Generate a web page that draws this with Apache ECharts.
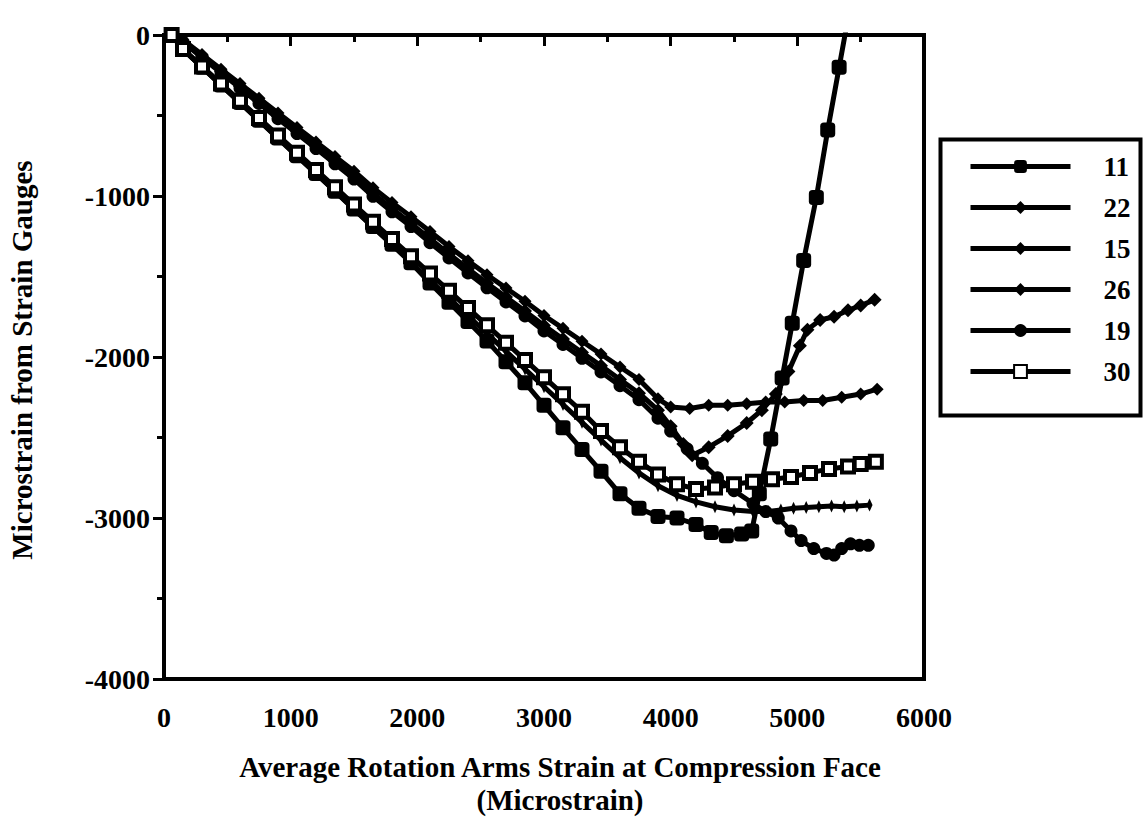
<!DOCTYPE html>
<html><head><meta charset="utf-8">
<script src="https://cdn.jsdelivr.net/npm/echarts@6/dist/echarts.min.js"></script>
<style>html,body{margin:0;padding:0;background:#fff}#c{width:1143px;height:837px}</style>
</head><body><div id="c"></div>
<script>
const seriesNames = ['11','22','15','26','19','30'];
const xTickLabels = ['0','1000','2000','3000','4000','5000','6000'];
const yTickLabels = ['-4000','-3000','-2000','-1000','0'];

const s11x = [60,150,300,450,600,750,900,1050,1200,1350,1500,1650,1800,1950,2100,2250,2400,2550,2700,2850,3000,3150,3300,3450,3600,3750,3900,4050,4200,4320,4440,4560,4640,4700,4790,4880,4960,5050,5150,5240,5330,5420];
const s11y = [0,-90,-200,-310,-420,-530,-640,-750,-860,-970,-1080,-1190,-1300,-1415,-1540,-1660,-1780,-1900,-2030,-2160,-2300,-2440,-2575,-2710,-2850,-2940,-2990,-3000,-3040,-3090,-3110,-3100,-3080,-2850,-2510,-2130,-1790,-1400,-1010,-590,-200,190];

const s22x = [60,150,300,450,600,750,900,1050,1200,1350,1500,1650,1800,1950,2100,2250,2400,2550,2700,2850,3000,3150,3300,3450,3600,3750,3900,4000,4100,4170,4300,4450,4600,4720,4830,4930,5020,5080,5180,5290,5400,5500,5610];
const s22y = [0,-40,-130,-225,-318,-410,-505,-598,-690,-785,-878,-985,-1078,-1170,-1265,-1360,-1452,-1542,-1628,-1715,-1805,-1888,-1972,-2055,-2140,-2225,-2330,-2430,-2540,-2610,-2560,-2490,-2410,-2330,-2230,-2090,-1930,-1830,-1770,-1750,-1710,-1680,-1645];

const s15x = [60,150,300,450,600,750,900,1050,1200,1350,1500,1650,1800,1950,2100,2250,2400,2550,2700,2850,3000,3150,3300,3450,3600,3750,3900,4000,4150,4300,4450,4600,4750,4900,5050,5200,5350,5500,5630];
const s15y = [0,-31,-121,-212,-302,-393,-484,-574,-665,-755,-846,-949,-1041,-1129,-1221,-1314,-1402,-1489,-1572,-1654,-1742,-1822,-1902,-1982,-2062,-2140,-2260,-2310,-2320,-2300,-2300,-2290,-2280,-2280,-2270,-2270,-2250,-2230,-2200];

const s26x = [60,150,300,450,600,750,900,1050,1200,1350,1500,1650,1800,1950,2100,2250,2400,2550,2700,2850,3000,3150,3300,3450,3600,3750,3900,4050,4200,4350,4500,4650,4770,4870,4970,5070,5170,5270,5370,5470,5570];
const s26y = [0,-90,-200,-311,-421,-531,-642,-752,-862,-972,-1083,-1193,-1303,-1413,-1524,-1634,-1744,-1854,-1965,-2075,-2185,-2295,-2406,-2516,-2626,-2720,-2800,-2860,-2900,-2930,-2950,-2960,-2960,-2950,-2940,-2935,-2930,-2925,-2930,-2925,-2920];

const s19x = [60,150,300,450,600,750,900,1050,1200,1350,1500,1650,1800,1950,2100,2250,2400,2550,2700,2850,3000,3150,3300,3450,3600,3750,3900,4000,4130,4250,4370,4500,4650,4750,4850,4950,5030,5130,5230,5290,5350,5420,5490,5560];
const s19y = [0,-45,-140,-235,-330,-425,-520,-612,-705,-800,-895,-1002,-1098,-1190,-1290,-1385,-1478,-1570,-1658,-1745,-1838,-1922,-2008,-2093,-2178,-2265,-2380,-2460,-2570,-2660,-2750,-2830,-2910,-2960,-3000,-3080,-3140,-3190,-3220,-3230,-3190,-3160,-3170,-3170];

const s30x = [60,150,300,450,600,750,900,1050,1200,1350,1500,1650,1800,1950,2100,2250,2400,2550,2700,2850,3000,3150,3300,3450,3600,3750,3900,4050,4200,4350,4500,4650,4800,4950,5100,5250,5400,5500,5620];
const s30y = [0,-87,-195,-302,-409,-516,-624,-731,-838,-945,-1053,-1160,-1267,-1374,-1482,-1589,-1696,-1803,-1911,-2018,-2125,-2232,-2340,-2460,-2560,-2650,-2730,-2790,-2820,-2810,-2790,-2775,-2760,-2745,-2720,-2695,-2680,-2665,-2650];

const FONT = '"Liberation Serif", "DejaVu Serif", serif';
const pair = (xs, ys) => xs.map((x, i) => [x, ys[i]]);

const styles = {
  '11': {symbol: 'roundRect', symbolSize: 15, item: {color: '#000'}},
  '22': {symbol: 'diamond', symbolSize: 14, item: {color: '#000'}},
  '15': {symbol: 'diamond', symbolSize: 13, item: {color: '#000'}},
  '26': {symbol: 'diamond', symbolSize: [6, 13], item: {color: '#000'}},
  '19': {symbol: 'circle', symbolSize: 13, item: {color: '#000'}},
  '30': {symbol: 'rect', symbolSize: 12, item: {color: '#fff', borderColor: '#000', borderWidth: 4}}
};
const dataMap = {
  '11': pair(s11x, s11y), '22': pair(s22x, s22y), '15': pair(s15x, s15y),
  '26': pair(s26x, s26y), '19': pair(s19x, s19y), '30': pair(s30x, s30y)
};

const chart = echarts.init(document.getElementById('c'), null, {renderer: 'svg'});
chart.setOption({
  animation: false,
  backgroundColor: '#fff',
  grid: {left: 164, right: 219, top: 35, bottom: 158, show: true, borderColor: '#000', borderWidth: 4},
  xAxis: {
    type: 'value', min: 0, max: 6000, interval: 1000,
    axisLine: {lineStyle: {color: '#000', width: 4}},
    axisTick: {length: 11, lineStyle: {color: '#000', width: 3}},
    minorTick: {show: true, splitNumber: 2, length: 7, lineStyle: {color: '#000', width: 3}},
    splitLine: {show: false},
    axisLabel: {margin: 24, color: '#000', fontFamily: FONT, fontWeight: 'bold', fontSize: 28,
      formatter: v => xTickLabels[Math.round(v / 1000)]}
  },
  yAxis: {
    type: 'value', min: -4000, max: 0, interval: 1000,
    axisLine: {lineStyle: {color: '#000', width: 4}},
    axisTick: {length: 11, lineStyle: {color: '#000', width: 3}},
    minorTick: {show: true, splitNumber: 2, length: 7, lineStyle: {color: '#000', width: 3}},
    splitLine: {show: false},
    axisLabel: {margin: 14, color: '#000', fontFamily: FONT, fontWeight: 'bold', fontSize: 28,
      formatter: v => yTickLabels[Math.round((v + 4000) / 1000)]}
  },
  legend: {
    orient: 'vertical', left: 963, top: 144,
    itemWidth: 100, itemHeight: 16, itemGap: 6,
    data: seriesNames,
    lineStyle: {width: 5, color: '#000'},
    textStyle: {color: '#000', fontFamily: FONT, fontWeight: 'bold', fontSize: 27, lineHeight: 27, padding: [8, 0, 0, 28]}
  },
  graphic: [
    {type: 'rect', left: 938, top: 137, shape: {width: 200, height: 276},
      style: {fill: 'none', stroke: '#000', lineWidth: 4}},
    {type: 'text', x: 22, y: 360, rotation: Math.PI / 2, style: {
      text: 'Microstrain from Strain Gauges', fill: '#000', font: 'bold 29px ' + FONT,
      textAlign: 'center', textVerticalAlign: 'middle'}},
    {type: 'text', x: 560, y: 767, style: {
      text: 'Average Rotation Arms Strain at Compression Face', fill: '#000', font: 'bold 29px ' + FONT,
      textAlign: 'center', textVerticalAlign: 'middle'}},
    {type: 'text', x: 560, y: 800, style: {
      text: '(Microstrain)', fill: '#000', font: 'bold 29px ' + FONT,
      textAlign: 'center', textVerticalAlign: 'middle'}}
  ],
  series: seriesNames.map(n => ({
    name: n, type: 'line', data: dataMap[n],
    symbol: styles[n].symbol, symbolSize: styles[n].symbolSize,
    itemStyle: styles[n].item,
    lineStyle: {color: '#000', width: 5},
    emphasis: {disabled: true}, clip: true
  }))
});
</script>
</body></html>
